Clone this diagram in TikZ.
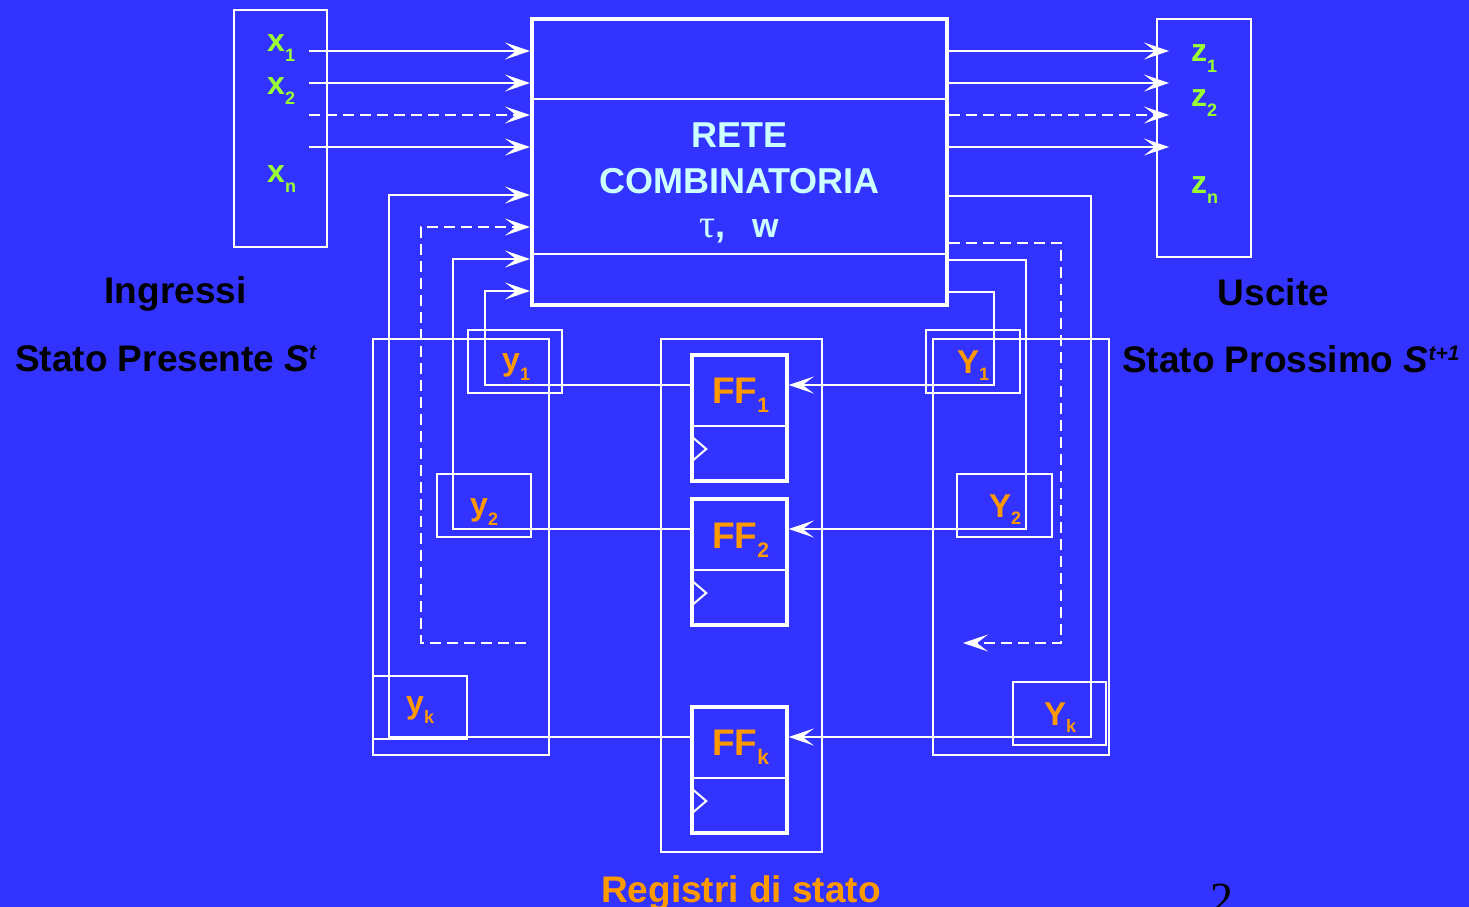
\documentclass[tikz,border=0pt]{standalone}
\usepackage{fontspec}
\setmainfont{Liberation Sans}
\newfontfamily\serifgreek{Liberation Serif}
\usetikzlibrary{arrows.meta,calc}
\definecolor{bgblue}{RGB}{51,51,255}
\definecolor{lgreen}{RGB}{153,255,51}
\definecolor{orng}{RGB}{255,153,0}
\definecolor{lcyan}{RGB}{204,255,255}
\newcommand\fsz[1]{\fontsize{#1}{#1}\selectfont}
\newcommand\lowsub[3]{\raisebox{-#1pt}{\fsz{#2}#3}}
\newcommand\highsup[1]{\raisebox{12pt}{\fsz{21}\itshape #1}}
\tikzset{
  wire/.style={draw=white, line width=2pt},
  dwire/.style={wire, dash pattern=on 11pt off 6pt},
  tip/.style={-{Stealth[length=25pt,width=17pt,inset=11pt]}},
  frame/.style={draw=white, line width=2pt, rectangle, inner sep=0pt},
  thickframe/.style={draw=white, line width=4pt, rectangle, inner sep=0pt},
  ffbox/.style={draw=white, line width=3.5pt, rectangle, inner sep=0pt, minimum width=95pt, minimum height=126pt},
  lbl/.style={anchor=base west, inner sep=0pt, font=\bfseries},
  big/.style={inner sep=0pt, font=\bfseries\fsz{37}, text=black},
}
\begin{document}
\begin{tikzpicture}[x=1pt, y=-1pt]
\path[use as bounding box, fill=bgblue] (0,0) rectangle (1469,907);

% main blocks
\node[thickframe, minimum width=415pt, minimum height=286pt] (comb) at (739.5,162) {};
\node[frame, minimum width=93pt, minimum height=237pt] (inbox) at (280.5,128.5) {};
\node[frame, minimum width=94pt, minimum height=238pt] (outbox) at (1204,138) {};
\node[frame, minimum width=176pt, minimum height=416pt] (lgrp) at (461,547) {};
\node[frame, minimum width=176pt, minimum height=416pt] (rgrp) at (1021,547) {};
\node[frame, minimum width=161pt, minimum height=513pt] (reg) at (741.5,595.5) {};
\node[frame, minimum width=94pt, minimum height=63pt] (y1box) at (515,361.5) {};
\node[frame, minimum width=94pt, minimum height=63pt] (y2box) at (484,505.5) {};
\node[frame, minimum width=94pt, minimum height=63pt] (ykbox) at (420,707.5) {};
\node[frame, minimum width=94pt, minimum height=63pt] (Y1box) at (973,361.5) {};
\node[frame, minimum width=95pt, minimum height=63pt] (Y2box) at (1004.5,505.5) {};
\node[frame, minimum width=93pt, minimum height=63pt] (Ykbox) at (1059.5,713.5) {};
\node[ffbox] (ff1) at (739.5,418) {};
\node[ffbox] (ff2) at (739.5,562) {};
\node[ffbox] (ffk) at (739.5,770) {};

% inner lines
\coordinate (h99) at (0,99);
\coordinate (h254) at (0,254);
\draw[wire, line width=1.8pt] (comb.west |- h99) -- (comb.east |- h99);
\draw[wire, line width=1.8pt] (comb.west |- h254) -- (comb.east |- h254);
\foreach \f in {ff1,ff2,ffk}{
  \draw[wire] ($(\f.west)+(1.75,8)$) -- ($(\f.east)+(-1.75,8)$);
  \draw[wire] ($(\f.west)+(2,19)$) -- ++(14,12) -- ++(-14,12);
}

% row / column coordinates
\coordinate (ra) at (0,51);
\coordinate (rb) at (0,83);
\coordinate (rc) at (0,115);
\coordinate (rd) at (0,147);
\coordinate (lE) at (0,195);
\coordinate (lF) at (0,227);
\coordinate (lG) at (0,259);
\coordinate (lH) at (0,291);
\coordinate (rE) at (0,196);
\coordinate (rF) at (0,243);
\coordinate (rG) at (0,260);
\coordinate (rH) at (0,292);
\coordinate (q1) at (0,385);
\coordinate (q2) at (0,529);
\coordinate (qk) at (0,737);
\coordinate (qd) at (0,643);
\coordinate (inx) at (309,0);
\coordinate (otx) at (1169,0);
\coordinate (cA) at (389,0);
\coordinate (cB) at (421,0);
\coordinate (cC) at (453,0);
\coordinate (cD) at (485,0);
\coordinate (dA) at (994,0);
\coordinate (dB) at (1026,0);
\coordinate (dC) at (1061,0);
\coordinate (dD) at (1091,0);
\coordinate (dlstart) at (526,643);
\coordinate (drend) at (963,643);

% inputs
\draw[wire, tip] (inx |- ra) -- (comb.west |- ra);
\draw[wire, tip] (inx |- rb) -- (comb.west |- rb);
\draw[dwire, tip] (inx |- rc) -- (comb.west |- rc);
\draw[wire, tip] (inx |- rd) -- (comb.west |- rd);
% outputs
\draw[wire, tip] (comb.east |- ra) -- (otx |- ra);
\draw[wire, tip] (comb.east |- rb) -- (otx |- rb);
\draw[dwire, tip] (comb.east |- rc) -- (otx |- rc);
\draw[wire, tip] (comb.east |- rd) -- (otx |- rd);

% present state feedback
\draw[wire, tip] (ffk.west |- qk) -| (cA |- lE) -- (comb.west |- lE);
\draw[dwire, tip] (dlstart) -| (cB |- lF) -- (comb.west |- lF);
\draw[wire, tip] (ff2.west |- q2) -| (cC |- lG) -- (comb.west |- lG);
\draw[wire, tip] (ff1.west |- q1) -| (cD |- lH) -- (comb.west |- lH);

% next state
\draw[wire, tip] (comb.east |- rH) -| (dA |- q1) -- (ff1.east |- q1);
\draw[wire, tip] (comb.east |- rG) -| (dB |- q2) -- (ff2.east |- q2);
\draw[dwire, tip] (comb.east |- rF) -| (dC |- qd) -- (drend);
\draw[wire, tip] (comb.east |- rE) -| (dD |- qk) -- (ffk.east |- qk);

% central text
\node[anchor=base, inner sep=0pt, font=\bfseries\fsz{36}, text=lcyan] (t1) at (739.5,147) {RETE};
\node[anchor=base, inner sep=0pt, font=\bfseries\fsz{36}, text=lcyan] (t2) at (739.5,193) {COMBINATORIA};
\node[anchor=base west, inner sep=0pt, text=lcyan] (t3) at (699,237) {{\serifgreek\fsz{40}τ}{\bfseries\fsz{36},}};
\node[anchor=base west, inner sep=0pt, font=\bfseries\fsz{34}, text=lcyan] (t4) at (752,237) {w};

% input/output labels
\node[lbl, text=lgreen, font=\bfseries\fsz{32}] (lx1) at (267,52) {x\lowsub{10}{18}{1}};
\node[lbl, text=lgreen, font=\bfseries\fsz{32}] (lx2) at (267,94) {x\lowsub{10}{18}{2}};
\node[lbl, text=lgreen, font=\bfseries\fsz{32}] (lxn) at (267,182) {x\lowsub{10}{18}{n}};
\node[lbl, text=lgreen, font=\bfseries\fsz{32}] (lz1) at (1191,62) {z\lowsub{10}{18}{1}};
\node[lbl, text=lgreen, font=\bfseries\fsz{32}] (lz2) at (1191,106) {z\lowsub{10}{18}{2}};
\node[lbl, text=lgreen, font=\bfseries\fsz{32}] (lzn) at (1191,193) {z\lowsub{10}{18}{n}};

% state labels
\node[lbl, text=orng, font=\bfseries\fsz{32}] (ly1) at (502,370) {y\lowsub{10}{18}{1}};
\node[lbl, text=orng, font=\bfseries\fsz{32}] (ly2) at (470,515) {y\lowsub{10}{18}{2}};
\node[lbl, text=orng, font=\bfseries\fsz{32}] (lyk) at (406,713) {y\lowsub{10}{18}{k}};
\node[lbl, text=orng, font=\bfseries\fsz{33}] (lY1) at (957,373) {Y\lowsub{7}{18}{1}};
\node[lbl, text=orng, font=\bfseries\fsz{33}] (lY2) at (989,517) {Y\lowsub{7}{18}{2}};
\node[lbl, text=orng, font=\bfseries\fsz{33}] (lYk) at (1044,725) {Y\lowsub{7}{18}{k}};
\node[lbl, text=orng, font=\bfseries\fsz{37}] (lff1) at (712,403) {FF\lowsub{9}{21}{1}};
\node[lbl, text=orng, font=\bfseries\fsz{37}] (lff2) at (712,548) {FF\lowsub{9}{21}{2}};
\node[lbl, text=orng, font=\bfseries\fsz{37}] (lffk) at (712,755) {FF\lowsub{9}{21}{k}};

% captions
\node[big, anchor=base] (cin) at (175.5,303) {Ingressi};
\node[big, anchor=base west] (cps) at (15,371) {Stato Presente \textit{S}\highsup{t}};
\node[big, anchor=base] (cout) at (1273.5,305) {Uscite};
\node[big, anchor=base west] (cns) at (1122,372) {Stato Prossimo \textit{S}\highsup{t+1}};
\node[anchor=base, inner sep=0pt, font=\bfseries\fsz{37}, text=orng] (creg) at (741,902) {Registri di stato};
\node[anchor=base west, inner sep=0pt, font=\serifgreek\fsz{46}, text=black] (pnum) at (1210,914) {2};
\end{tikzpicture}
\end{document}
